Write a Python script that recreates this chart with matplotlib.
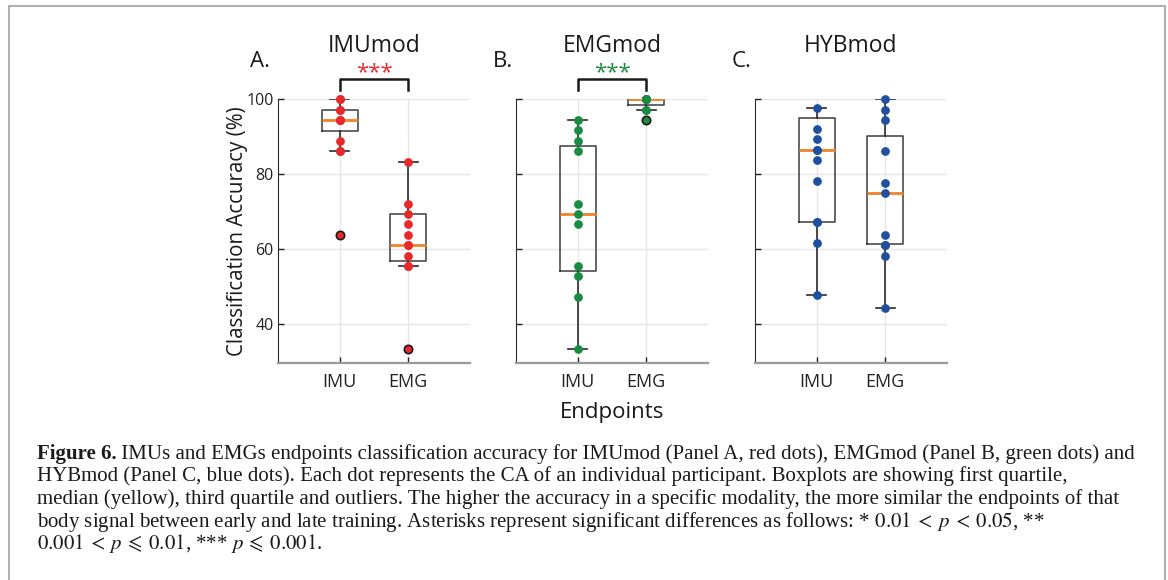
import numpy as np
import matplotlib.pyplot as plt
from matplotlib.patches import Rectangle

plt.rcParams['font.family'] = ['Open Sans', 'DejaVu Sans']
plt.rcParams['mathtext.fontset'] = 'stix'

# data (classification accuracy, %)
panel_letters = ['A.', 'B.', 'C.']
panel_titles = ['IMUmod', 'EMGmod', 'HYBmod']
endpoints = ['IMU', 'EMG']
dot_colors = ['#e8292c', '#1b8b43', '#1f4f9f']
sig_stars = ['***', '***', '']

imumod_imu = [100, 100, 97.2, 97.2, 94.4, 94.4, 94.4, 88.9, 86.1, 86.1, 63.9]
imumod_emg = [83.3, 72.2, 69.4, 66.7, 63.9, 61.1, 61.1, 58.3, 55.6, 55.6, 33.3]
emgmod_imu = [94.4, 91.7, 88.9, 86.1, 72.2, 69.4, 66.7, 55.6, 52.8, 47.2, 33.3]
emgmod_emg = [100, 100, 100, 100, 100, 100, 100, 100, 97.2, 97.2, 94.4]
hybmod_imu = [97.7, 92.2, 89.3, 86.6, 86.6, 83.8, 78.2, 67.3, 67.3, 61.7, 47.8]
hybmod_emg = [100, 97.2, 94.4, 86.1, 77.8, 75.0, 63.9, 61.1, 61.1, 58.3, 44.4]

# box statistics: [IMU, EMG] per panel
q1 = [[91.6, 57.0], [54.3, 98.6], [67.3, 61.3]]
med = [[94.4, 61.1], [69.4, 100], [86.6, 75.1]]
q3 = [[97.2, 69.4], [87.5, 100], [94.9, 90.3]]
whis_lo = [[86.1, 55.6], [33.3, 97.2], [47.8, 44.4]]
whis_hi = [[100, 83.3], [94.4, 100], [97.7, 100]]

data = [[imumod_imu, imumod_emg], [emgmod_imu, emgmod_emg], [hybmod_imu, hybmod_emg]]

W, H = 1168, 580
fig = plt.figure(figsize=(W / 100, H / 100), dpi=100)

# outer frame
fig.patches.append(Rectangle((9 / W, -0.05), 1156 / W, 1.05 - 6 / H, transform=fig.transFigure,
                             fill=False, ec='#b0b0b0', lw=1.5))

lefts = [278, 516, 755]
for k in range(3):
    ax = fig.add_axes([lefts[k] / W, 1 - 363.3 / H, 192 / W, 264 / H])
    stats = []
    for j in range(2):
        stats.append(dict(med=med[k][j], q1=q1[k][j], q3=q3[k][j],
                          whislo=whis_lo[k][j], whishi=whis_hi[k][j], fliers=[]))
    ax.bxp(stats, positions=[1, 2], widths=0.53, capwidths=0.28, showfliers=False,
           boxprops=dict(color='#3c3c3c', lw=1.1),
           whiskerprops=dict(color='#2a2a2a', lw=1.2),
           capprops=dict(color='#2a2a2a', lw=1.2),
           medianprops=dict(color='#f08229', lw=2.0), zorder=3)
    for j in range(2):
        v = np.array(data[k][j])
        ax.plot(np.full(len(v), j + 1), v, 'o', ms=6.3, color=dot_colors[k],
                mec=dot_colors[k], mew=0, zorder=4, clip_on=False)
        out = v[(v < whis_lo[k][j]) | (v > whis_hi[k][j])]
        ax.plot(np.full(len(out), j + 1), out, 'o', ms=6.0, color=dot_colors[k],
                mec='#1a1a1a', mew=1.2, zorder=5, clip_on=False)

    ax.set_xlim(0.1, 2.9)
    ax.set_ylim(29.6, 100)
    ax.set_xticks([1, 2])
    ax.set_xticklabels(endpoints)
    ax.set_yticks([40, 60, 80, 100])
    if k > 0:
        ax.set_yticklabels([])
    ax.grid(True, color='#e6e6e6', lw=1)
    ax.set_axisbelow(True)
    ax.tick_params(direction='in', length=4, width=1, color='#222222')
    ax.tick_params(axis='x', labelsize=13, pad=7, colors='#222222')
    ax.tick_params(axis='y', labelsize=11.5, pad=3, colors='#222222')
    for s in ['top', 'right']:
        ax.spines[s].set_visible(False)
    ax.spines['left'].set_color('#2a2a2a')
    ax.spines['bottom'].set_color('#9a9a9a')
    ax.spines['bottom'].set_linewidth(1.6)

    ax.text(0.5, 1.18, panel_titles[k], transform=ax.transAxes, ha='center',
            va='baseline', fontsize=16.5, color='#1a1a1a')
    ax.text(-0.146 if k == 0 else -0.121, 1.1235, panel_letters[k], transform=ax.transAxes,
            ha='left', va='baseline', fontsize=16, color='#1a1a1a')

    if sig_stars[k]:
        ax.plot([1, 1, 2, 2], [102.5, 105.3, 105.3, 102.5], color='#1a1a1a', lw=1.8,
                clip_on=False)
        ax.text(1.5, 107.0, sig_stars[k], ha='center', va='center', fontsize=16,
                color=dot_colors[k])

    if k == 0:
        ax.set_ylabel('Classification Accuracy (%)', fontsize=14.8, color='#1a1a1a', labelpad=-1)
    if k == 1:
        ax.set_xlabel('Endpoints', fontsize=16, color='#1a1a1a', labelpad=8)

# caption
caption_lines = [
    ' IMUs and EMGs endpoints classification accuracy for IMUmod (Panel A, red dots), EMGmod (Panel B, green dots) and',
    'HYBmod (Panel C, blue dots). Each dot represents the CA of an individual participant. Boxplots are showing first quartile,',
    'median (yellow), third quartile and outliers. The higher the accuracy in a specific modality, the more similar the endpoints of that',
    r'body signal between early and late training. Asterisks represent significant differences as follows: * $0.01\:<\:p\:<\:0.05$, **',
    r'$0.001\:<\:p\:\leqslant\:0.01$, *** $p\:\leqslant\:0.001$.',
]
cap_font = ['Liberation Serif', 'DejaVu Serif']
x0 = 36.7 / W
baselines = [459, 481.5, 504, 526.5, 549]
size = 13.5
t_bold = fig.text(x0, 1 - baselines[0] / H, 'Figure 6.', fontsize=size, weight='bold',
                  family=cap_font, va='baseline', color='#1a1a1a')
t_first = fig.text(0, 0, caption_lines[0], fontsize=size, family=cap_font, va='baseline',
                   color='#1a1a1a')
cap_texts = [t_first]
for i in range(1, 5):
    cap_texts.append(fig.text(x0, 1 - baselines[i] / H, caption_lines[i], fontsize=size,
                              family=cap_font, va='baseline', color='#1a1a1a'))

# fit first caption line to the reference width
fig.canvas.draw()
r = fig.canvas.get_renderer()
wb = t_bold.get_window_extent(r).width
wf = t_first.get_window_extent(r).width
scale = 1100 / (wb + wf)
size = size * scale
t_bold.set_fontsize(size)
for t in cap_texts:
    t.set_fontsize(size)
fig.canvas.draw()
wb = t_bold.get_window_extent(r).width
t_first.set_position((x0 + wb / W, 1 - baselines[0] / H))

fig.savefig('out.png', dpi=100)
